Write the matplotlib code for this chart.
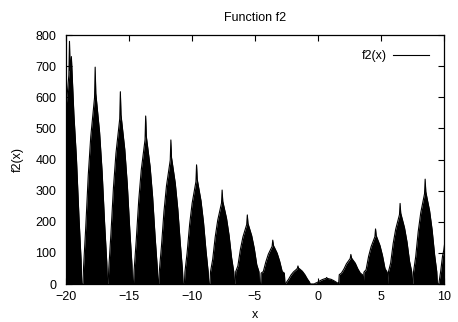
import numpy as np
import matplotlib
matplotlib.use('Agg')
import matplotlib.pyplot as plt

plt.rcParams['font.family'] = ['Liberation Sans', 'DejaVu Sans']

# lobe centres (x) and the f2 values read around each centre
lobe_centers = [-19.72, -17.68, -15.68, -13.67, -11.67, -9.63, -7.60, -5.60,
                -3.58, -1.58, 0.70, 2.62, 4.58, 6.53, 8.52]
lobe_offsets = [-0.97, -0.92, -0.75, -0.55, -0.35, -0.15, -0.05, 0.0,
                0.05, 0.15, 0.35, 0.55, 0.75, 0.92, 0.97]
lobe_heights = [
    [0, 62, 203, 390, 530, 624, 671, 780, 686, 731, 546, 406, 218, 78, 0],
    [0, 56, 181, 349, 474, 558, 599, 697, 613, 572, 488, 362, 195, 70, 0],
    [0, 49, 161, 309, 420, 494, 531, 618, 544, 507, 433, 321, 173, 62, 0],
    [0, 43, 140, 270, 367, 432, 464, 540, 475, 443, 378, 281, 151, 54, 0],
    [0, 40, 120, 232, 315, 370, 398, 463, 407, 380, 324, 241, 130, 46, 0],
    [0, 40, 100, 192, 260, 306, 329, 383, 337, 314, 268, 199, 107, 40, 0],
    [0, 40, 79, 151, 205, 242, 260, 302, 266, 248, 211, 157, 85, 40, 0],
    [0, 40, 58, 111, 151, 178, 191, 222, 195, 182, 155, 115, 62, 40, 0],
    [0, 35, 40, 71, 96, 113, 121, 141, 124, 116, 99, 73, 40, 35, 0],
    [0, 5, 15, 29, 39, 46, 50, 58, 51, 48, 41, 30, 16, 6, 0],
    [0, 2, 5, 10, 14, 17, 18, 21, 18, 17, 15, 11, 6, 2, 0],
    [0, 30, 35, 48, 65, 76, 82, 95, 84, 78, 67, 49, 35, 30, 0],
    [0, 38, 46, 89, 120, 142, 152, 177, 156, 145, 124, 92, 50, 38, 0],
    [0, 40, 67, 130, 176, 207, 223, 259, 228, 212, 181, 135, 73, 40, 0],
    [0, 40, 88, 169, 229, 270, 290, 337, 297, 276, 236, 175, 94, 40, 0],
]
# last lobe, cut by the right edge
tail_x = [9.6, 9.75, 9.9, 10.0, 10.1]
tail_y = [0, 40, 90, 109, 140]

xs = []
ys = []
for c, h in zip(lobe_centers, lobe_heights):
    xs += [c + o for o in lobe_offsets]
    ys += h
xs += tail_x
ys += tail_y
xs = np.array(xs)
ys = np.array(ys)

fig = plt.figure(figsize=(4.58, 3.22), dpi=100)
ax = fig.add_axes([0.144, 0.118, 0.825, 0.773])

ax.fill_between(xs, 0, ys, color='black', lw=0)
ax.plot(xs, ys, color='black', lw=0.8, label='f2(x)')

ax.set_xlim(-20, 10)
ax.set_ylim(0, 800)
ax.set_xticks(range(-20, 11, 5))
ax.set_yticks(range(0, 801, 100))
ax.tick_params(direction='in', top=True, right=True, length=4, width=0.8, labelsize=9)
ax.tick_params(axis='y', pad=7)
ax.tick_params(axis='x', pad=5)
for s in ax.spines.values():
    s.set_linewidth(0.9)

ax.set_title('Function f2', fontsize=9, pad=10)
ax.set_xlabel('x', fontsize=9, labelpad=4)
ax.set_ylabel('f2(x)', fontsize=9, labelpad=8)
ax.legend(loc='upper right', bbox_to_anchor=(0.99, 0.985), frameon=False, fontsize=9,
          markerfirst=False, handlelength=2.9, handletextpad=0.45)

plt.savefig('out.png', dpi=100)
